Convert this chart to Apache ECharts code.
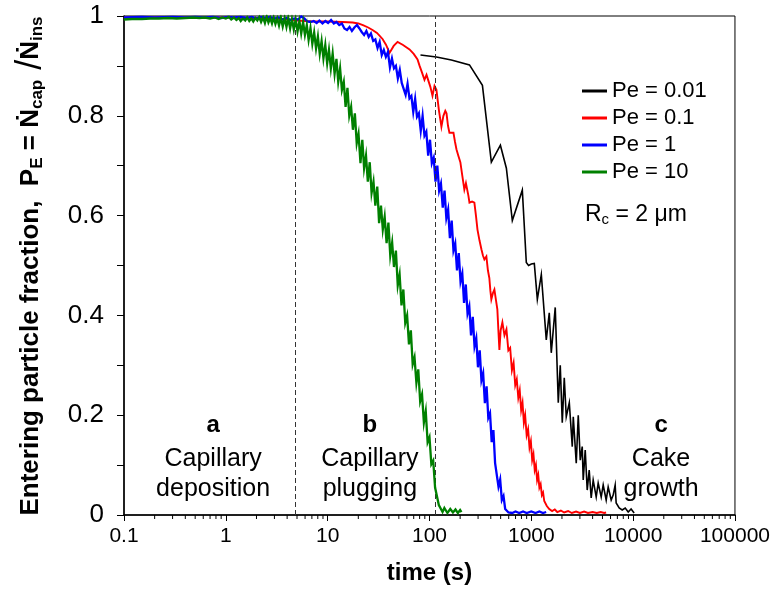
<!DOCTYPE html>
<html>
<head>
<meta charset="utf-8">
<script src="https://cdn.jsdelivr.net/npm/echarts@6/dist/echarts.min.js"></script>
<style>
  html, body { margin: 0; padding: 0; background: #fff; }
  #chart { width: 773px; height: 592px; }
</style>
</head>
<body>
<div id="chart"></div>
<script>
const FONT = '"Liberation Sans", Arial, Helvetica, sans-serif';

// Axis ticks
const xTicks = [0.1, 1, 10, 100, 1000, 10000, 100000];
const yTicks = [0, 0.2, 0.4, 0.6, 0.8, 1];
const minorMultipliers = [2, 3, 4, 5, 6, 7, 8, 9];

// Series
const seriesNames = ['Pe = 0.01', 'Pe = 0.1', 'Pe = 1', 'Pe = 10'];
const seriesColors = ['#000000', '#ff0000', '#0000ff', '#008000'];
const seriesWidths = [1.6, 1.9, 2.3, 2.3];

// Regime boundaries (s) and labels
const regimeBounds = [4.8, 115];
const regimeLetters = ['a', 'b', 'c'];
const regimeNames = ['Capillary\ndeposition', 'Capillary\nplugging', 'Cake\ngrowth'];
const regimeLabelTimes = [0.75, 26, 18800];

// [time (s), P_E]
const pe001 = [[81.6,.922],[117,.918],[164,.912],[247,.902],[331,.861],[405,.707],[497,.741],[569,.695],[651,.59],[816,.651],[893,.506],[940,.5],[1000,.503],[1070,.504],[1146,.432],[1254,.482],[1403,.351],[1501,.405],[1570,.325],[1718,.416],[1840,.225],[1924,.3],[2014,.185],[2107,.275],[2204,.197],[2361,.225],[2525,.137],[2583,.197],[2763,.104],[2891,.2],[3024,.11],[3163,.137],[3235,.07],[3384,.13],[3540,.05],[3703,.09],[3874,.034],[4052,.07],[4338,.036],[4537,.064],[4857,.036],[5081,.06],[5437,.03],[5687,.056],[6088,.03],[6368,.04],[6661,.06],[6813,.024],[7294,.014],[7808,.01],[8360,.014],[8950,.006],[9550,.012],[10230,.004]];

const pe01 = [[0.1,.997],[0.5,.997],[1,.997],[2,.996],[3,.995],[4,.993],[5,.991],[7.1,.989],[10,.989],[14,.988],[17.6,.987],[20,.985],[22.5,.981],[25,.977],[27.6,.972],[30.5,.966],[34.6,.954],[37.5,.942],[40.5,.926],[44.5,.94],[48.6,.948],[55,.942],[63.7,.933],[70,.924],[76.3,.913],[80,.9],[84,.888],[89.3,.872],[93.5,.882],[97.8,.886],[102,.858],[107,.84],[112,.86],[117,.852],[124,.81],[131,.778],[137,.8],[143,.81],[147,.805],[152,.78],[157,.766],[164,.77],[172,.766],[178,.748],[184,.733],[192,.72],[201,.707],[210,.68],[220,.652],[228,.665],[236,.668],[241,.64],[247,.626],[262,.628],[276,.626],[286,.6],[296,.572],[310,.55],[324,.532],[335,.52],[346,.512],[362,.518],[375,.49],[387,.475],[396,.45],[405,.432],[420,.445],[434,.452],[450,.43],[464,.412],[475,.37],[486,.331],[500,.37],[520,.386],[545,.36],[570,.372],[595,.33],[620,.335],[645,.29],[670,.305],[695,.26],[720,.272],[745,.235],[770,.25],[795,.21],[820,.225],[845,.185],[870,.2],[900,.16],[930,.172],[960,.135],[990,.148],[1020,.11],[1050,.122],[1080,.09],[1110,.1],[1140,.07],[1170,.08],[1200,.055],[1235,.062],[1270,.04],[1305,.045],[1340,.028],[1380,.032],[1420,.018],[1460,.022],[1500,.012],[1550,.015],[1600,.008],[1700,.011],[1800,.006],[1950,.009],[2100,.005],[2300,.008],[2500,.004],[2750,.007],[3000,.004],[3300,.007],[3600,.004],[4000,.006],[4400,.004],[4800,.006],[5200,.004],[5430,.005]];

const pe1 = [[0.1,.997],[0.15,.998],[0.2,.997],[0.3,.998],[0.4,.997],[0.5,.998],[0.6,.997],[0.75,.998],[0.9,.996],[1.05,.998],[1.2,.997],[1.4,.998],[1.6,.996],[1.8,.998],[2.0,.995],[2.2,.998],[2.45,.996],[2.7,.998],[3.0,.995],[3.3,.997],[3.6,.993],[3.95,.996],[4.3,.992],[4.7,.995],[5.1,.993],[5.5,.999],[5.9,.995],[6.3,.989],[6.8,.988],[7.3,.99],[7.8,.986],[8.3,.991],[8.9,.985],[9.5,.99],[10.1,.986],[10.8,.992],[11.5,.985],[12.2,.988],[13.0,.982],[13.8,.985],[14.6,.975],[15.5,.972],[16.4,.978],[17.3,.97],[18.3,.977],[19.4,.982],[20.5,.975],[21.6,.968],[22.8,.962],[24.0,.97],[25.3,.958],[26.6,.965],[28.0,.95],[29.4,.953],[30.9,.936],[32.4,.948],[34.0,.922],[35.6,.932],[37.3,.918],[39.1,.928],[40.9,.897],[42.8,.915],[44.8,.895],[46.8,.9],[48.9,.875],[51.1,.892],[53.4,.866],[55.8,.87],[58.3,.842],[60.9,.864],[63.6,.835],[66.4,.84],[69.3,.808],[72.3,.834],[75.4,.798],[78.7,.805],[82.1,.77],[85.6,.8],[89.3,.76],[93.1,.768],[97.1,.72],[101.2,.752],[105.5,.705],[110,.716],[114.6,.668],[119.4,.7],[124.4,.65],[129.6,.664],[135,.616],[140.6,.65],[146.4,.595],[152.4,.612],[158.7,.555],[165.2,.59],[172,.53],[179,.544],[186.3,.49],[193.9,.525],[201.8,.468],[210,.484],[218.5,.425],[227.3,.462],[236.5,.404],[246,.418],[255.9,.36],[266.2,.397],[276.9,.338],[288,.354],[299.5,.296],[311.4,.33],[323.8,.27],[336.6,.284],[350,.224],[363.8,.258],[378.1,.195],[393,.204],[408.4,.146],[424.4,.17],[441,.104],[458.2,.108],[476,.057],[494.5,.071],[513.6,.03],[533.4,.038],[554,.012],[575.3,.016],[597,.005],[620,.008],[650,.004],[700,.007],[760,.004],[830,.007],[900,.004],[1000,.007],[1100,.004],[1200,.007],[1300,.004],[1400,.006]];

const pe10 = [[0.1,.993],[0.12,.994],[0.15,.994],[0.18,.995],[0.22,.995],[0.27,.996],[0.33,.995],[0.4,.996],[0.48,.997],[0.55,.996],[0.62,.997],[0.7,.995],[0.78,.997],[0.85,.994],[0.92,.997],[1.0,.995],[1.07,.998],[1.13,.993],[1.2,.997],[1.27,.992],[1.34,.996],[1.4,.99],[1.47,.995],[1.55,.991],[1.62,.997],[1.7,.99],[1.78,.995],[1.86,.989],[1.95,.996],[2.04,.991],[2.13,.998],[2.22,.988],[2.32,.997],[2.42,.986],[2.52,.999],[2.62,.987],[2.73,.996],[2.84,.985],[2.95,.997],[3.07,.984],[3.2,.995],[3.33,.981],[3.47,.997],[3.62,.979],[3.78,.996],[3.94,.978],[4.1,.996],[4.28,.975],[4.46,.994],[4.65,.973],[4.85,.993],[5.06,.969],[5.28,.99],[5.5,.965],[5.74,.988],[5.98,.962],[6.24,.982],[6.5,.952],[6.78,.976],[7.07,.944],[7.37,.967],[7.69,.935],[8.02,.959],[8.36,.924],[8.72,.95],[9.09,.915],[9.48,.942],[9.89,.905],[10.3,.932],[10.75,.895],[11.2,.925],[11.7,.884],[12.2,.914],[12.7,.868],[13.25,.895],[13.8,.852],[14.4,.868],[15.0,.818],[15.65,.856],[16.3,.8],[17.0,.818],[17.7,.772],[18.5,.805],[19.3,.745],[20.1,.764],[21.0,.705],[21.9,.752],[22.8,.695],[23.8,.72],[24.8,.668],[25.9,.707],[27.0,.645],[28.2,.668],[29.4,.62],[30.7,.658],[32.0,.585],[33.4,.62],[34.8,.572],[36.3,.598],[37.9,.545],[39.5,.586],[41.2,.52],[43.0,.546],[44.8,.497],[46.8,.53],[48.8,.46],[50.9,.482],[53.1,.42],[55.4,.452],[57.8,.385],[60.3,.4],[62.9,.342],[65.6,.37],[68.4,.302],[71.3,.316],[74.4,.265],[77.6,.292],[81.0,.228],[84.5,.242],[88.1,.185],[91.9,.208],[95.9,.146],[100,.156],[104.3,.102],[108.8,.109],[113.5,.055],[118.4,.059],[123.5,.02],[128.8,.024],[134.4,.006],[140,.014],[150,.004],[160,.012],[170,.005],[180,.011],[190,.004],[200,.01],[206,.006]];

const curves = [pe001, pe01, pe1, pe10];

// Minor tick positions between decades of the log axis
const minorTickValues = [];
xTicks.slice(0, -1).forEach(d => minorMultipliers.forEach(m => minorTickValues.push([+(d * m).toPrecision(6), 0])));

const chart = echarts.init(document.getElementById('chart'), null, { renderer: 'canvas' });

const lineSeries = curves.map((data, i) => ({
  name: seriesNames[i],
  type: 'line',
  data: data,
  symbol: 'none',
  showSymbol: false,
  clip: true,
  lineStyle: { color: seriesColors[i], width: seriesWidths[i], join: 'miter' },
  itemStyle: { color: seriesColors[i] },
  emphasis: { disabled: true },
  z: 2 + i
}));

const option = {
  animation: false,
  textStyle: { fontFamily: FONT },
  grid: {
    left: 124, right: 37, top: 16, bottom: 77,
    show: true, borderColor: '#000', borderWidth: 1, backgroundColor: 'transparent'
  },
  legend: {
    data: seriesNames,
    orient: 'vertical',
    left: 577, top: 75,
    icon: 'rect',
    itemWidth: 25, itemHeight: 3, itemGap: 5,
    textStyle: { fontSize: 22, lineHeight: 22, color: '#000', fontFamily: FONT }
  },
  xAxis: {
    type: 'log', logBase: 10,
    min: xTicks[0], max: xTicks[xTicks.length - 1],
    name: 'time (s)', nameLocation: 'middle', nameGap: 46,
    nameTextStyle: { fontSize: 24, fontWeight: 'bold', color: '#000', fontFamily: FONT },
    axisLine: { show: true, onZero: false, lineStyle: { color: '#000', width: 1.5 } },
    axisTick: { show: true, inside: false, length: 6, lineStyle: { color: '#000', width: 1 } },
    axisLabel: { fontSize: 21, color: '#000', margin: 11, fontFamily: FONT,
      formatter: v => String(Number((+v).toPrecision(6))) },
    splitLine: { show: false },
    minorTick: { show: false }
  },
  yAxis: {
    type: 'value',
    min: yTicks[0], max: yTicks[yTicks.length - 1], interval: 0.2,
    axisLine: { show: true, onZero: false, lineStyle: { color: '#000', width: 1.5 } },
    axisTick: { show: true, inside: false, length: 7, lineStyle: { color: '#000', width: 1 } },
    minorTick: { show: true, splitNumber: 2, length: 7, lineStyle: { color: '#000', width: 1 } },
    axisLabel: { fontSize: 26, color: '#000', margin: 20, fontFamily: FONT,
      formatter: v => String(Number((+v).toFixed(1))) },
    splitLine: { show: false },
    minorSplitLine: { show: false }
  },
  graphic: [
    {
      type: 'text',
      x: 31, y: 266,
      rotation: Math.PI / 2,
      style: {
        text: '{m|Entering particle fraction,  P}{s|E}{m| = Ṅ}{s|cap}{sl| /}{m|Ṅ}{s|ins}',
        align: 'center', verticalAlign: 'middle',
        fill: '#000',
        rich: {
          m: { fontSize: 26, fontWeight: 'bold', fontFamily: FONT, fill: '#000' },
          s: { fontSize: 17, fontWeight: 'bold', fontFamily: FONT, fill: '#000', padding: [13, 0, 0, 0] },
          sl: { fontSize: 36, fontWeight: 'normal', fontFamily: FONT, fill: '#000' }
        }
      }
    },
    {
      type: 'text',
      left: 585, top: 203,
      style: {
        text: '{n|R}{c|c}{n| = 2 μm}',
        fill: '#000',
        rich: {
          n: { fontSize: 23, fontFamily: FONT, fill: '#000' },
          c: { fontSize: 15, fontFamily: FONT, fill: '#000', padding: [11, 0, 0, 0] }
        }
      }
    }
  ],
  series: [
    ...lineSeries,
    {
      name: 'regimes',
      type: 'scatter',
      symbolSize: 0,
      silent: true,
      z: 1,
      itemStyle: { opacity: 1 },
      data: regimeLabelTimes.map((t, i) => ({
        value: [t, 0.12],
        label: {
          show: true, position: 'inside', opacity: 1,
          formatter: '{l|' + regimeLetters[i] + '}\n' + regimeNames[i],
          fontSize: 25, lineHeight: 30, color: '#000', fontFamily: FONT, align: 'center',
          textBorderWidth: 0, textBorderColor: 'transparent',
          rich: { l: { fontSize: 24, fontWeight: 'bold', lineHeight: 38, fontFamily: FONT, color: '#000',
            textBorderWidth: 0 } }
        }
      })),
      markLine: {
        silent: true,
        symbol: 'none',
        label: { show: false },
        lineStyle: { color: '#333', width: 1, type: [5, 3] },
        data: regimeBounds.map(b => ({ xAxis: b }))
      }
    },
    {
      name: 'minorTicks',
      type: 'custom',
      silent: true,
      clip: false,
      data: minorTickValues,
      renderItem: (params, api) => {
        const p = api.coord([api.value(0), 0]);
        return {
          type: 'line',
          shape: { x1: p[0], y1: p[1], x2: p[0], y2: p[1] + 4 },
          style: { stroke: '#000', lineWidth: 1 }
        };
      }
    }
  ]
};

chart.setOption(option);
</script>
</body>
</html>
